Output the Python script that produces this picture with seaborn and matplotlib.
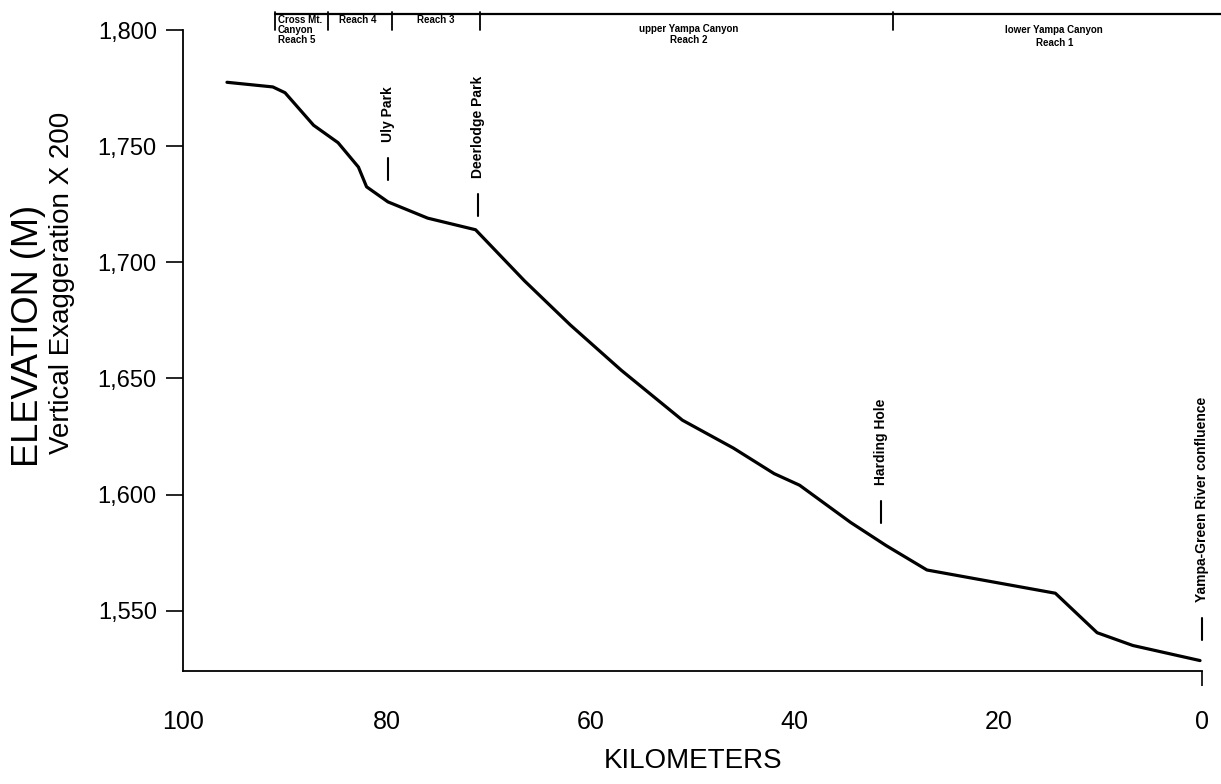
import matplotlib
matplotlib.use("Agg")
import matplotlib.pyplot as plt
import seaborn as sns
import pandas as pd

# River-mile profile of the Yampa River (distance upstream of the Green River confluence)
distance_km = [95.7, 91.2, 90.0, 87.2, 84.8, 82.8, 82.0, 79.9, 76.0, 71.3,
               66.5, 62.0, 57.0, 51.0, 46.0, 42.0, 39.5, 34.5, 31.0, 27.0,
               14.4, 10.3, 6.8, 0.2]
elevation_m = [1777.5, 1775.5, 1773.0, 1759.0, 1751.5, 1741.0, 1732.5, 1726.0, 1719.0, 1714.0,
               1692.0, 1673.0, 1653.5, 1632.0, 1620.0, 1609.0, 1604.0, 1588.0, 1578.0, 1567.5,
               1557.5, 1540.5, 1535.0, 1528.5]

x_ticks = [100, 80, 60, 40, 20, 0]
y_ticks = [1550, 1600, 1650, 1700, 1750, 1800]
y_tick_labels = ["1,550", "1,600", "1,650", "1,700", "1,750", "1,800"]

# Landmarks along the river (km)
landmark_names = ["Uly Park", "Deerlodge Park", "Harding Hole", "Yampa-Green River confluence"]
landmark_km = [79.9, 71.1, 31.5, 0.0]
landmark_text_base = [1751.8, 1736.3, 1604.2, 1553.9]

# Reach boundaries (km)
reach_bounds_km = [91.0, 85.8, 79.5, 70.9, 30.3]

sns.set_theme(style="white")
plt.rcParams["font.family"] = ["Liberation Sans", "DejaVu Sans"]
for key in ["text.color", "axes.labelcolor", "xtick.color", "ytick.color"]:
    plt.rcParams[key] = "black"
narrow = ["Liberation Sans Narrow", "Liberation Sans", "DejaVu Sans"]

fig = plt.figure(figsize=(12.21, 7.84), dpi=100)
ax = fig.add_axes([0.150, 0.1441, 0.8345, 0.8176])

df = pd.DataFrame({"km": distance_km, "elev": elevation_m})
sns.lineplot(data=df, x="km", y="elev", ax=ax, color="black", linewidth=2.3,
             sort=False, estimator=None)

ax.set_xlim(100, 0)
ax.set_ylim(1524, 1800)
ax.set_xticks(x_ticks)
ax.set_xticklabels([str(v) for v in x_ticks], fontsize=18)
ax.set_yticks(y_ticks)
ax.set_yticklabels(y_tick_labels, fontsize=17)
ax.tick_params(axis="y", direction="out", length=12, width=1.2, color="black", left=True, pad=7)
ax.tick_params(axis="x", direction="out", length=11, width=1.2, color="black", bottom=True, pad=17)
for t, v in zip(ax.xaxis.get_major_ticks(), x_ticks):
    if v != 0:
        t.tick1line.set_visible(False)

for side in ["top", "right"]:
    ax.spines[side].set_visible(False)
for side in ["left", "bottom"]:
    ax.spines[side].set_color("black")
    ax.spines[side].set_linewidth(1.3)

ax.set_xlabel("KILOMETERS", fontsize=20, labelpad=10)
ax.set_ylabel("")
fig.text(0.023, 0.572, "ELEVATION (M)", rotation=90, fontsize=26,
         ha="center", va="center")
fig.text(0.051, 0.639, "Vertical Exaggeration X 200", rotation=90, fontsize=20,
         ha="center", va="center", family=narrow)

# Landmark labels with short pointer ticks
for name, km, base in zip(landmark_names, landmark_km, landmark_text_base):
    ax.text(km, base, name, rotation=90, ha="center", va="bottom",
            fontsize=10, fontweight="bold", family=narrow, clip_on=False)
    ax.plot([km, km], [base - 7.0, base - 16.5], color="black", linewidth=1.5,
            clip_on=False)

# Reach bar across the top
top_elev = 1806.8
ax.plot([reach_bounds_km[0], -1.9], [top_elev, top_elev], color="black",
        linewidth=1.6, clip_on=False)
for b in reach_bounds_km:
    ax.plot([b, b], [top_elev + 0.8, 1800.0], color="black", linewidth=1.3,
            clip_on=False)

small = dict(fontsize=7, fontweight="bold", family=narrow, clip_on=False)
ax.text(90.7, 1804.5, "Cross Mt.", ha="left", va="center", **small)
ax.text(90.7, 1800.0, "Canyon", ha="left", va="center", **small)
ax.text(90.7, 1795.8, "Reach 5", ha="left", va="center", **small)
ax.text(82.9, 1804.5, "Reach 4", ha="center", va="center", **small)
ax.text(75.2, 1804.5, "Reach 3", ha="center", va="center", **small)
ax.text(50.4, 1800.6, "upper Yampa Canyon", ha="center", va="center", **small)
ax.text(50.4, 1795.5, "Reach 2", ha="center", va="center", **small)
ax.text(14.5, 1799.8, "lower Yampa Canyon", ha="center", va="center", **small)
ax.text(14.5, 1794.5, "Reach 1", ha="center", va="center", **small)

fig.savefig("out.png", dpi=100, facecolor="white")
